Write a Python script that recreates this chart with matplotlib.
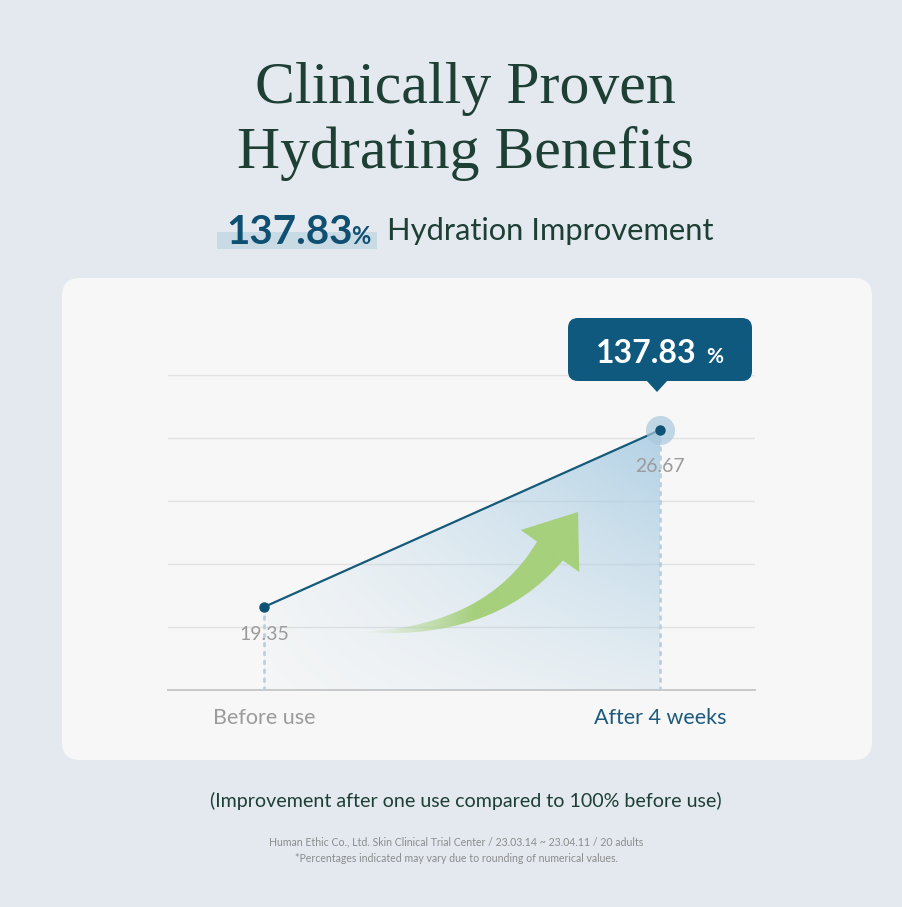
import numpy as np
import matplotlib
matplotlib.use("Agg")
import matplotlib.pyplot as plt
from matplotlib.patches import FancyBboxPatch, Polygon, Rectangle
from matplotlib.colors import to_rgb

# --- Data ---
stages = ["Before use", "After 4 weeks"]
hydration = [19.35, 26.67]
improvement = 137.83

# --- Style ---
BG = "#e3e9ef"
CARD = "#f7f7f7"
GREEN_DARK = "#1d3f34"
BLUE_DARK = "#0f4f71"
GRAY = "#9b9b9b"
SANS = "Lato"
SERIF = "Liberation Serif"

W, H = 903, 907
fig = plt.figure(figsize=(W / 100, H / 100), dpi=100, facecolor=BG)


def pixel_layer(z):
    # full-figure axes in pixel coordinates (y downwards) for decorations
    a = fig.add_axes([0, 0, 1, 1], zorder=z)
    a.set_xlim(0, W)
    a.set_ylim(H, 0)
    a.axis("off")
    a.patch.set_alpha(0)
    return a


deco = pixel_layer(0)
deco.add_patch(FancyBboxPatch((62, 278), 810, 482, boxstyle="round,pad=0,rounding_size=18",
                              fc=CARD, ec="none"))

# --- Titles ---
deco.text(W / 2 + 14, 103, "Clinically Proven", family=SERIF, size=43, color=GREEN_DARK,
          ha="center", va="baseline")
deco.text(W / 2 + 14, 168, "Hydrating Benefits", family=SERIF, size=43, color=GREEN_DARK,
          ha="center", va="baseline")

deco.add_patch(Rectangle((217, 232), 160, 17, fc="#c8dbe5", ec="none"))
deco.text(226, 244, f"{improvement:.2f}", family=SANS, weight="bold", size=29, color=BLUE_DARK,
          ha="left", va="baseline")
deco.text(351, 244, "%", family=SANS, weight="bold", size=17, color=BLUE_DARK,
          ha="left", va="baseline")
deco.text(387, 240, "Hydration Improvement", family=SANS, size=22.2, color=GREEN_DARK,
          ha="left", va="baseline")

# --- Footnotes ---
deco.text(W / 2 + 14, 801, "(Improvement after one use compared to 100% before use)", family=SANS,
          size=14.1, color=GREEN_DARK, ha="center", va="center")
deco.text(W / 2 + 5, 842, "Human Ethic Co., Ltd. Skin Clinical Trial Center / 23.03.14 ~ 23.04.11 / 20 adults",
          family=SANS, size=7.6, color="#8c8c8c", ha="center", va="center")
deco.text(W / 2 + 5, 859, "*Percentages indicated may vary due to rounding of numerical values.",
          family=SANS, size=7.6, color="#8c8c8c", ha="center", va="center")

# --- Chart axes ---
x_left, x_right, y_top, y_base = 168, 755, 375, 690
ax = fig.add_axes([x_left / W, 1 - y_base / H, (x_right - x_left) / W, (y_base - y_top) / H], zorder=1)
ax.patch.set_alpha(0)
px_per_unit = (607 - 430) / (hydration[1] - hydration[0])
ymin = hydration[0] - (y_base - 607) / px_per_unit
ymax = hydration[0] + (607 - y_top) / px_per_unit
ax.set_ylim(ymin, ymax)
xs = np.arange(len(stages))
ax.set_xlim(-96 / 396, 1 + 95 / 396)
for s in ax.spines.values():
    s.set_visible(False)
ax.set_xticks([])
ax.set_yticks([])

for g in np.linspace(ymin, ymax, 6)[1:]:
    ax.axhline(g, color="#e2e2e2", lw=1, zorder=1)
ax.axhline(ymin, color="#c9c9c9", lw=1.4, zorder=2, clip_on=False)

# gradient area under the line
fill_poly = Polygon([(xs[0], hydration[0]), (xs[1], hydration[1]), (xs[1], ymin), (xs[0], ymin)],
                    closed=True, fc="none", ec="none", transform=ax.transData)
ax.add_patch(fill_poly)
gx, gy = np.meshgrid(np.linspace(0, 1, 200), np.linspace(0, 1, 200))
alpha = np.clip((0.15 + 0.85 * gx) * (0.25 + 0.75 * gy) * 0.85, 0, 1)
rgba = np.zeros((200, 200, 4))
rgba[..., :3] = to_rgb("#a7cbe2")
rgba[..., 3] = alpha
img = ax.imshow(rgba, extent=[xs[0], xs[1], ymin, hydration[1]], origin="lower",
                aspect="auto", zorder=2, interpolation="bilinear")
img.set_clip_path(fill_poly)

# --- Green arrow (decorative, pixel layer above the fill) ---
P0 = np.array([360.0, 632.0])
P1 = np.array([490.0, 634.0])
P2 = np.array([550.0, 551.0])
tip = np.array([578.0, 512.0])
t = np.linspace(0, 1, 80)[:, None]
centre = (1 - t) ** 2 * P0 + 2 * (1 - t) * t * P1 + t ** 2 * P2
deriv = 2 * (1 - t) * (P1 - P0) + 2 * t * (P2 - P1)
deriv /= np.linalg.norm(deriv, axis=1, keepdims=True)
normal = np.column_stack([deriv[:, 1], -deriv[:, 0]])
half = 15.5 * t ** 1.1 + 0.5
upper = centre + normal * half
lower = centre - normal * half
d = (tip - P2) / np.linalg.norm(tip - P2)
n = np.array([d[1], -d[0]])
arrow_pts = np.vstack([upper, [P2 + n * 36], [tip], [P2 - n * 36], lower[::-1]])

arrow_layer = pixel_layer(1.5)
ap = Polygon(arrow_pts, closed=True, fc="none", ec="none")
arrow_layer.add_patch(ap)
ramp = np.linspace(0, 1, 300)
arr = np.zeros((2, 300, 4))
arr[..., :3] = to_rgb("#a6d07c")
arr[..., 3] = np.clip((ramp - 0.02) / 0.5, 0, 1) ** 1.2
im2 = arrow_layer.imshow(arr, extent=[358, 582, 640, 505], aspect="auto", interpolation="bilinear")
im2.set_clip_path(ap)

# dotted drop lines
for x, v in zip(xs, hydration):
    ax.plot([x, x], [ymin, v], ls=(0, (1, 2.2)), color="#b8d0e0", lw=2, zorder=3,
            dash_capstyle="round")

ax.plot(xs, hydration, color="#165a79", lw=1.6, zorder=4, solid_capstyle="round")
ax.plot(xs[1], hydration[1], "o", ms=21, color="#a9c9de", alpha=0.7, zorder=4, mec="none")
ax.plot(xs, hydration, "o", ms=7.5, color="#0f5273", zorder=5, mec="none")

# value labels
ax.annotate(f"{hydration[0]:.2f}", (xs[0], hydration[0]), xytext=(0, -28), textcoords="offset pixels",
            ha="center", va="center", family=SANS, size=14, color=GRAY, zorder=6)
ax.annotate(f"{hydration[1]:.2f}", (xs[1], hydration[1]), xytext=(0, -37), textcoords="offset pixels",
            ha="center", va="center", family=SANS, size=14, color=GRAY, zorder=6)

# category labels
label_colors = [GRAY, "#1d5a7c"]
for x, lab, c in zip(xs, stages, label_colors):
    ax.annotate(lab, (x, ymin), xytext=(0, -28), textcoords="offset pixels", ha="center", va="center",
                family=SANS, size=15.5, color=c, annotation_clip=False)

# callout box above the last point (top layer so gridlines stay behind)
top = pixel_layer(3)
top.add_patch(FancyBboxPatch((568, 318), 184, 63, boxstyle="round,pad=0,rounding_size=10",
                             fc="#0f587e", ec="none"))
top.add_patch(Polygon([(646, 380), (668, 380), (657, 392)], closed=True, fc="#0f587e", ec="none"))
top.text(596, 363, f"{improvement:.2f}", family=SANS, weight="bold", size=23, color="white",
         ha="left", va="baseline")
top.text(706, 363, "%", family=SANS, weight="bold", size=15, color="white",
         ha="left", va="baseline")

fig.savefig("out.png", dpi=100, facecolor=BG)
